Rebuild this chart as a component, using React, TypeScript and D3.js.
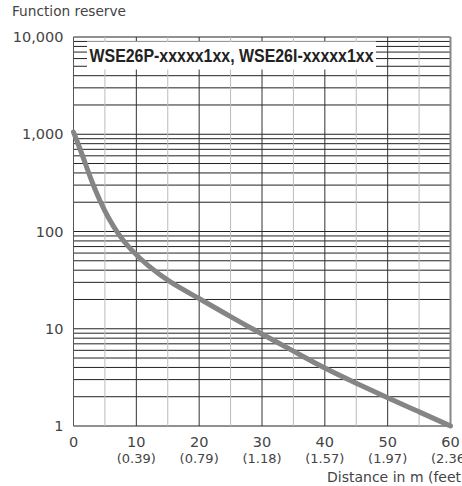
import React from "react";
import * as d3 from "d3";

const distance = [0, 0.8, 1.7, 2.8, 4.2, 5.6, 7.2, 9, 11.7, 15.3, 20, 25, 30, 35, 40, 45, 50, 55, 60];
const reserve = [1050, 780, 540, 340, 205, 135, 92, 66, 45, 30, 20.5, 13.3, 8.8, 5.9, 3.9, 2.75, 1.95, 1.4, 1.0];
const xTicks = [0, 10, 20, 30, 40, 50, 60];
const xFeet = ["", "(0.39)", "(0.79)", "(1.18)", "(1.57)", "(1.97)", "(2.36)"];
const xMinor = [5, 15, 25, 35, 45, 55];
const yTicks = [1, 10, 100, 1000, 10000];
const legendLabel = "WSE26P-xxxxx1xx, WSE26I-xxxxx1xx";

const W = 462, H = 486;
const font = "'DejaVu Sans', sans-serif";

export default function App() {
  const x = d3.scaleLinear().domain([0, 60]).range([73.5, 450.5]);
  const y = d3.scaleLog().domain([1, 10000]).range([426, 37]);
  const minorY: number[] = [];
  for (let d = 1; d < 10000; d *= 10) for (let k = 2; k <= 9; k++) minorY.push(d * k);
  const fmt = d3.format(",");
  const pts = distance.map((d, i) => [d, reserve[i]] as [number, number]);
  const line = d3.line<[number, number]>().x(d => x(d[0])).y(d => y(d[1])).curve(d3.curveBasis);
  const x0 = x(0), x1 = x(60), yT = y(10000), yB = y(1);
  return (
    <svg width={W} height={H} style={{ position: "absolute", left: 0, top: 0, background: "#fff" }}>
      {minorY.map(v => (
        <line key={"my" + v} x1={x0} x2={x1} y1={y(v)} y2={y(v)} stroke="#222" strokeWidth={1} />
      ))}
      {yTicks.map(v => (
        <line key={"My" + v} x1={x0} x2={x1} y1={y(v)} y2={y(v)} stroke="#222" strokeWidth={1} />
      ))}
      {xMinor.map(v => (
        <line key={"mx" + v} x1={x(v)} x2={x(v)} y1={yT} y2={yB} stroke="#bbb" strokeWidth={1} />
      ))}
      {xTicks.slice(1, -1).map(v => (
        <line key={"Mx" + v} x1={x(v)} x2={x(v)} y1={yT} y2={yB} stroke="#333" strokeWidth={1} />
      ))}
      <line x1={x0} x2={x0} y1={yT} y2={yB} stroke="#555" strokeWidth={1} />
      <line x1={x1} x2={x1} y1={yT} y2={yB} stroke="#888" strokeWidth={2} />
      <rect x={87} y={41.5} width={289} height={28} fill="#fff" />
      <text x={231.5} y={61.5} textAnchor="middle" fontFamily="'Liberation Sans', Arial, sans-serif" fontWeight="bold" fontSize={18} textLength={284} lengthAdjust="spacingAndGlyphs" fill="#222">{legendLabel}</text>
      <path d={line(pts) || ""} fill="none" stroke="#858585" strokeWidth={5} strokeLinecap="round" strokeLinejoin="round" />
      <text x={12} y={16} fontFamily={font} fontSize={13.7} fill="#444">Function reserve</text>
      {yTicks.map(v => (
        <text key={"yl" + v} x={63.5} y={y(v)} dy="0.36em" textAnchor="end" fontFamily={font} fontSize={14.5} fill="#444">{fmt(v)}</text>
      ))}
      {xTicks.map((v, i) => (
        <g key={"xl" + v}>
          <text x={x(v)} y={446.5} textAnchor="middle" fontFamily={font} fontSize={14.5} fill="#444">{v}</text>
          {xFeet[i] && <text x={x(v)} y={463} textAnchor="middle" fontFamily={font} fontSize={13} fill="#444">{xFeet[i]}</text>}
        </g>
      ))}
      <text x={327} y={482} fontFamily={font} fontSize={14} fill="#444">Distance in m (feet)</text>
    </svg>
  );
}
